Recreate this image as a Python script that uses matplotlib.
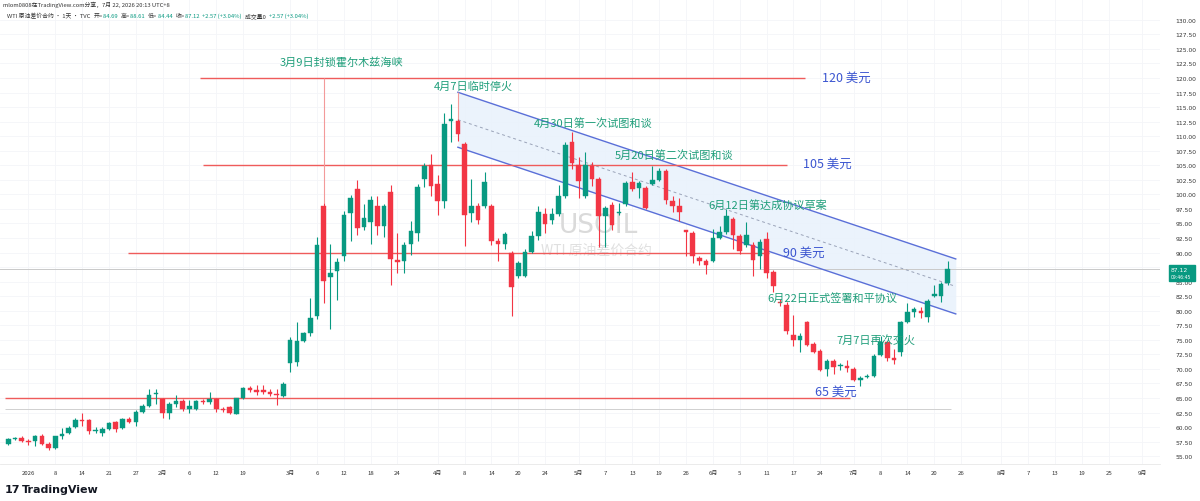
import matplotlib
matplotlib.use("Agg")
import matplotlib.pyplot as plt
import numpy as np
import pandas as pd
from matplotlib.patches import Rectangle

plt.rcParams['font.family'] = ['Noto Sans CJK SC', 'DejaVu Sans']

# ---------------- data ----------------
holidays = ["2026-01-01", "2026-01-19", "2026-02-16", "2026-04-03",
            "2026-05-25", "2026-06-19", "2026-07-03", "2026-09-07"]
first_day = "2025-12-29"
last_axis_day = "2026-10-30"

opens = [57.09, 58.0, 58.07, 57.6, 57.6, 58.47, 57.15, 56.4, 58.47, 59.04,
         60.01, 61.28, 61.16, 59.3, 58.98, 59.67, 60.82, 59.78, 61.39, 60.93,
         62.65, 63.62, 65.7, 64.83, 62.42, 63.91, 64.54, 63.16, 63.1, 64.54,
         64.25, 64.83, 63.16, 63.4, 62.31, 64.94, 66.66, 66.3, 66.4, 66.1,
         65.7, 65.4, 71.0, 71.24, 74.8, 76.17, 79.15, 98.06, 85.74, 86.83,
         89.35, 96.74, 100.9, 94.45, 95.3, 98.06, 94.5, 100.46, 88.78, 88.49,
         91.4, 93.36, 102.64, 105.05, 101.72, 98.9, 112.55, 112.6, 108.66, 96.8,
         98.06, 98.06, 98.0, 92.04, 91.47, 89.92, 85.9, 85.9, 90.04, 92.9,
         96.56, 95.6, 96.62, 99.66, 109.06, 105.05, 99.66, 104.82, 102.64, 96.34,
         98.23, 96.8, 98.34, 102.18, 101.03, 101.15, 101.78, 102.52, 104.07, 98.9,
         98.06, 93.82, 93.36, 89.12, 88.5, 88.6, 92.44, 93.47, 95.76, 92.78,
         91.3, 91.3, 89.35, 92.33, 86.6, 81.56, 80.99, 75.83, 74.91, 77.99,
         74.28, 73.13, 69.98, 71.42, 70.56, 70.44, 69.98, 68.15, 68.67, 68.73,
         72.39, 74.68, 71.93, 72.85, 77.99, 79.84, 79.95, 78.86, 82.59, 82.47,
         84.69]
highs = [58.18, 58.3, 58.4, 57.95, 58.64, 58.75, 57.38, 58.5, 59.78, 60.24,
         61.62, 62.42, 61.39, 59.96, 60.01, 60.93, 61.05, 61.62, 61.73, 62.88,
         63.91, 66.55, 66.55, 65.06, 64.25, 65.57, 64.83, 64.71, 64.71, 64.83,
         65.97, 65.06, 63.4, 63.57, 65.06, 66.83, 67.1, 67.2, 67.2, 66.55,
         66.55, 67.8, 75.4, 78.0, 76.4, 82.13, 92.6, 98.6, 91.47, 89.0,
         97.1, 99.9, 102.5, 98.3, 99.66, 99.66, 98.3, 101.6, 93.35, 91.75,
         95.5, 101.78, 105.39, 106.9, 103.3, 113.98, 115.53, 112.95, 109.06, 102.6,
         98.6, 103.9, 98.34, 92.44, 93.59, 90.32, 88.6, 90.61, 93.76, 98.06,
         97.6, 97.6, 101.6, 109.06, 110.66, 106.36, 107.34, 105.5, 102.93, 98.06,
         98.63, 98.6, 102.35, 103.78, 102.35, 101.5, 104.93, 104.47, 104.36, 99.66,
         99.32, 93.93, 93.76, 89.46, 88.9, 94.05, 94.62, 97.48, 96.05, 93.19,
         95.3, 91.75, 92.33, 93.59, 87.06, 82.01, 81.44, 79.27, 76.17, 78.29,
         74.57, 73.42, 71.7, 71.7, 71.02, 71.59, 70.27, 68.84, 69.12, 72.56,
         75.6, 74.85, 73.42, 78.29, 81.33, 80.58, 80.58, 82.01, 84.42, 84.99,
         88.61]
lows = [56.92, 57.8, 57.4, 56.9, 56.7, 56.92, 56.12, 56.23, 57.95, 58.81,
        59.78, 60.24, 58.81, 59.0, 58.52, 59.56, 59.1, 59.67, 60.7, 60.24,
        62.42, 63.4, 63.97, 61.5, 61.39, 63.4, 62.77, 62.42, 62.99, 63.97,
        63.97, 62.65, 62.65, 62.25, 62.2, 64.83, 66.1, 65.5, 65.7, 65.4,
        63.8, 65.1, 69.4, 70.56, 74.6, 75.7, 78.6, 81.4, 76.85, 81.9,
        88.6, 92.0, 93.0, 93.93, 91.47, 93.0, 92.6, 84.4, 86.48, 86.48,
        89.6, 92.04, 101.2, 99.77, 96.45, 97.6, 108.94, 109.23, 91.07, 95.3,
        94.9, 97.6, 91.3, 88.6, 90.61, 79.04, 85.6, 85.74, 89.92, 92.21,
        93.36, 94.9, 96.23, 99.32, 104.36, 99.32, 99.32, 101.5, 90.9, 90.9,
        93.93, 96.5, 98.06, 100.63, 99.32, 97.48, 101.61, 102.35, 98.34, 96.9,
        95.48, 89.35, 88.2, 87.86, 86.3, 88.3, 92.33, 93.19, 90.61, 89.75,
        90.9, 86.0, 87.17, 85.57, 83.27, 80.87, 76.0, 73.99, 72.85, 73.99,
        72.73, 69.7, 68.84, 69.12, 69.87, 69.41, 67.98, 67.12, 68.38, 68.55,
        72.27, 71.42, 70.84, 72.27, 77.88, 78.86, 78.69, 78.12, 82.3, 81.56,
        84.44]
closes = [57.95, 58.1, 57.55, 57.44, 58.41, 57.04, 56.46, 58.41, 58.87, 59.9,
          61.22, 61.1, 59.27, 59.4, 59.67, 60.7, 59.67, 61.39, 60.93, 62.65,
          63.57, 65.5, 65.92, 62.42, 63.91, 64.54, 63.16, 63.57, 64.54, 64.25,
          64.83, 63.1, 62.88, 62.42, 64.94, 66.66, 66.3, 65.97, 66.1, 65.63,
          65.5, 67.35, 75.0, 74.85, 76.1, 78.8, 91.3, 85.05, 86.48, 88.43,
          96.45, 99.3, 94.16, 95.9, 99.0, 94.6, 98.06, 88.9, 88.43, 91.3,
          93.76, 101.2, 104.93, 101.5, 98.9, 112.09, 112.95, 110.37, 96.45, 97.94,
          95.65, 102.07, 92.04, 91.41, 93.13, 84.0, 88.2, 90.15, 92.9, 97.02,
          94.9, 96.62, 99.66, 108.48, 105.39, 102.37, 105.05, 102.64, 96.22, 97.6,
          94.73, 97.0, 101.95, 100.92, 101.95, 97.7, 102.52, 104.02, 99.09, 98.06,
          97.02, 93.47, 89.46, 88.55, 87.9, 92.44, 93.47, 96.22, 93.0, 90.32,
          93.0, 88.78, 91.87, 86.43, 84.2, 81.33, 76.57, 75.02, 75.6, 74.11,
          72.96, 69.87, 71.42, 70.27, 70.73, 70.15, 68.15, 68.49, 68.84, 72.27,
          74.68, 71.82, 71.59, 77.99, 79.84, 80.3, 79.61, 81.73, 82.93, 84.59,
          87.12]

# x-axis tick dates and labels
tick_dates = ["2026-01-02", "2026-01-08", "2026-01-14", "2026-01-21", "2026-01-27",
              "2026-02-02", "2026-02-06", "2026-02-12", "2026-02-19",
              "2026-03-02", "2026-03-06", "2026-03-12", "2026-03-18", "2026-03-24",
              "2026-04-01", "2026-04-08", "2026-04-14", "2026-04-20", "2026-04-24",
              "2026-05-01", "2026-05-07", "2026-05-13", "2026-05-19", "2026-05-26",
              "2026-06-01", "2026-06-05", "2026-06-11", "2026-06-17", "2026-06-24",
              "2026-07-01", "2026-07-08", "2026-07-14", "2026-07-20", "2026-07-24",
              "2026-08-03", "2026-08-07", "2026-08-13", "2026-08-19", "2026-08-25",
              "2026-09-01"]
tick_labels = ["2026", "8", "14", "21", "27", "2月", "6", "12", "19",
               "3月", "6", "12", "18", "24", "4月", "8", "14", "20", "24",
               "5月", "7", "13", "19", "26", "6月", "5", "11", "17", "24",
               "7月", "8", "14", "20", "26", "8月", "7", "13", "19", "25", "9月"]

y_ticks = list(np.arange(55, 130.01, 2.5))

# horizontal key levels
level_prices = [120, 105, 90, 65]
level_texts = ["120 美元", "105 美元", "90 美元", "65 美元"]

# events
event_texts = ["3月9日封锁霍尔木兹海峡", "4月7日临时停火", "4月30日第一次试图和谈",
               "5月20日第二次试图和谈", "6月12日第达成协议草案", "6月22日正式签署和平协议",
               "7月7日再次交火"]

# channel (index, upper price, lower price)
channel_idx = [67.0, 141.2]
channel_upper = [117.55, 88.9]
channel_lower = [108.1, 79.45]

last_price = 87.12
ref_line_price = 63.05

# ---------------- build ----------------
days = pd.bdate_range(first_day, last_axis_day)
days = days[~days.isin(pd.to_datetime(holidays))]
pos = {d.strftime("%Y-%m-%d"): i for i, d in enumerate(days)}

W, H = 1200, 502
fig = plt.figure(figsize=(W / 100, H / 100), dpi=100)
ax = fig.add_axes([0.0, 1 - 465 / H, 1160 / W, 465 / H])

px_per_bar = 6.71
x0_px = 8.3
ax.set_xlim((0 - x0_px) / px_per_bar, (1160 - x0_px) / px_per_bar)
ax.set_ylim(120 - 386 / 5.818, 120 + 79 / 5.818)

# grid
for yv in y_ticks:
    ax.axhline(yv, color="#f4f5f8", lw=0.6, zorder=0)
tick_pos = [pos[d] for d in tick_dates]
for xv in tick_pos:
    ax.axvline(xv, color="#f4f5f8", lw=0.6, zorder=0)

GREEN = "#089981"
RED = "#f23645"

# channel
cx = np.array(channel_idx)
cu = np.array(channel_upper)
cl = np.array(channel_lower)
ax.fill_between(cx, cl, cu, color="#e9f2fc", alpha=0.9, zorder=1, lw=0)
ax.plot(cx, cu, color="#5a6fd8", lw=1.0, zorder=2)
ax.plot(cx, cl, color="#5a6fd8", lw=1.0, zorder=2)
ax.plot(cx, (cu + cl) / 2, color="#9aa3b8", lw=0.7, ls=(0, (3, 3)), zorder=2)

# reference lines
ax.axhline(last_price, color="#c9c9c9", lw=0.7, zorder=1)
ax.hlines(ref_line_price, -0.5, 140.5, color="#d0d0d0", lw=0.7, zorder=1)

level_ranges = [(28.6, 118.7), (29.0, 116.0), (17.8, 113.3), (-0.5, 125.4)]
LINE_RED = "#ef5b5b"
for p, (a, b) in zip(level_prices, level_ranges):
    ax.hlines(p, a, b, color=LINE_RED, lw=1.0, zorder=2)

# event vertical markers
ax.vlines(pos["2026-03-09"], highs[pos["2026-03-09"]], 120, color="#f39a9a", lw=0.8, zorder=2)
ax.vlines(pos["2026-04-07"], highs[pos["2026-04-07"]], channel_upper[0], color="#f39a9a", lw=0.8, zorder=2)

# candles
n = len(closes)
xi = np.arange(n)
o = np.array(opens); c = np.array(closes); h = np.array(highs); l = np.array(lows)
cols = np.where(c >= o, GREEN, RED)
ax.vlines(xi, l, h, colors=cols, lw=0.8, zorder=3)
bottom = np.minimum(o, c)
height = np.maximum(np.abs(c - o), 0.15)
ax.bar(xi, height, bottom=bottom, width=0.68, color=cols, edgecolor=cols, lw=0.3, zorder=4)

# watermark
ax.text(88.0, 94.7, "USOIL", fontsize=19, color="#dadada", ha="center", va="center", zorder=1,
        family=["DejaVu Sans"])
ax.text(87.7, 90.4, "WTI 原油差价合约", fontsize=10, color="#e0e0e0", ha="center", va="center", zorder=1)

# annotations
TEAL = "#1f9e7a"
BLUE = "#3b55d0"
event_pos = [(40.5, 122.9), (63.4, 118.6), (78.3, 112.3), (90.4, 106.9),
             (104.3, 98.3), (113.2, 82.2), (123.4, 75.0)]
for t, (xx, yy) in zip(event_texts, event_pos):
    ax.text(xx, yy, t, fontsize=8, color=TEAL, ha="left", va="center", zorder=6)
level_text_pos = [(121.3, 120.2), (118.4, 105.4), (115.5, 90.1), (120.2, 66.2)]
for t, (xx, yy) in zip(level_texts, level_text_pos):
    ax.text(xx, yy, t, fontsize=9, color=BLUE, ha="left", va="center", zorder=6)

# axes styling
for s in ax.spines.values():
    s.set_visible(False)
ax.spines["bottom"].set_visible(True)
ax.spines["bottom"].set_color("#e8e8e8")
ax.spines["bottom"].set_linewidth(0.6)
ax.set_xticks(tick_pos)
ax.set_xticklabels(tick_labels, fontsize=4.3, color="#333333")
ax.tick_params(axis="x", length=0, pad=4)
ax.yaxis.tick_right()
ax.set_yticks(y_ticks)
# the label at 87.50 is covered by the last-price box, as in the reference
ax.set_yticklabels(["" if abs(v - last_price) < 1.5 else f"{v:.2f}" for v in y_ticks],
                   fontsize=4.3, color="#333333", family=["DejaVu Sans"])
ax.tick_params(axis="y", length=0, pad=11)
for lab in ax.get_yticklabels():
    lab.set_horizontalalignment("left")

# price label box
fig.patches.append(Rectangle((1169 / W, 1 - 282 / H), 26 / W, 16 / H, transform=fig.transFigure,
                             color=GREEN, zorder=5))
fig.text(1171 / W, 1 - 270.5 / H, "87.12", fontsize=4.3, color="white", ha="left", va="center",
         family=["DejaVu Sans"], zorder=6)
fig.text(1171 / W, 1 - 277.5 / H, "09:46:45", fontsize=3.3, color="white", ha="left", va="center",
         family=["DejaVu Sans"], zorder=6)

# header
fig.text(3 / W, 1 - 5 / H, "mlom0808在TradingView.com分享，7月 22, 2026 20:13 UTC+8",
         fontsize=4.2, color="#333333", ha="left", va="center")
fig.canvas.draw()
renderer = fig.canvas.get_renderer()
pieces = [("WTI 原油差价合约 · 1天 · TVC  ", "#333333"), ("开=", "#333333"), ("84.69  ", GREEN),
          ("高=", "#333333"), ("88.61  ", GREEN), ("低=", "#333333"), ("84.44  ", GREEN),
          ("收=", "#333333"), ("87.12  ", GREEN), ("+2.57 (+3.04%)  ", GREEN),
          ("成交量0  ", "#333333"), ("+2.57 (+3.04%)", GREEN)]
xp = 7.0
for s, colr in pieces:
    t = fig.text(xp / W, 1 - 16 / H, s, fontsize=4.2, color=colr, ha="left", va="center")
    bb = t.get_window_extent(renderer)
    xp = bb.x1 + 0.5

# logo
fig.text(5 / W, 1 - 490 / H, "17", fontsize=8, color="#131722", ha="left", va="center",
         fontweight="bold", family=["DejaVu Sans"])
fig.text(22 / W, 1 - 490 / H, "TradingView", fontsize=8, color="#131722", ha="left", va="center",
         fontweight="bold", family=["DejaVu Sans"])

fig.savefig("out.png", dpi=100)
